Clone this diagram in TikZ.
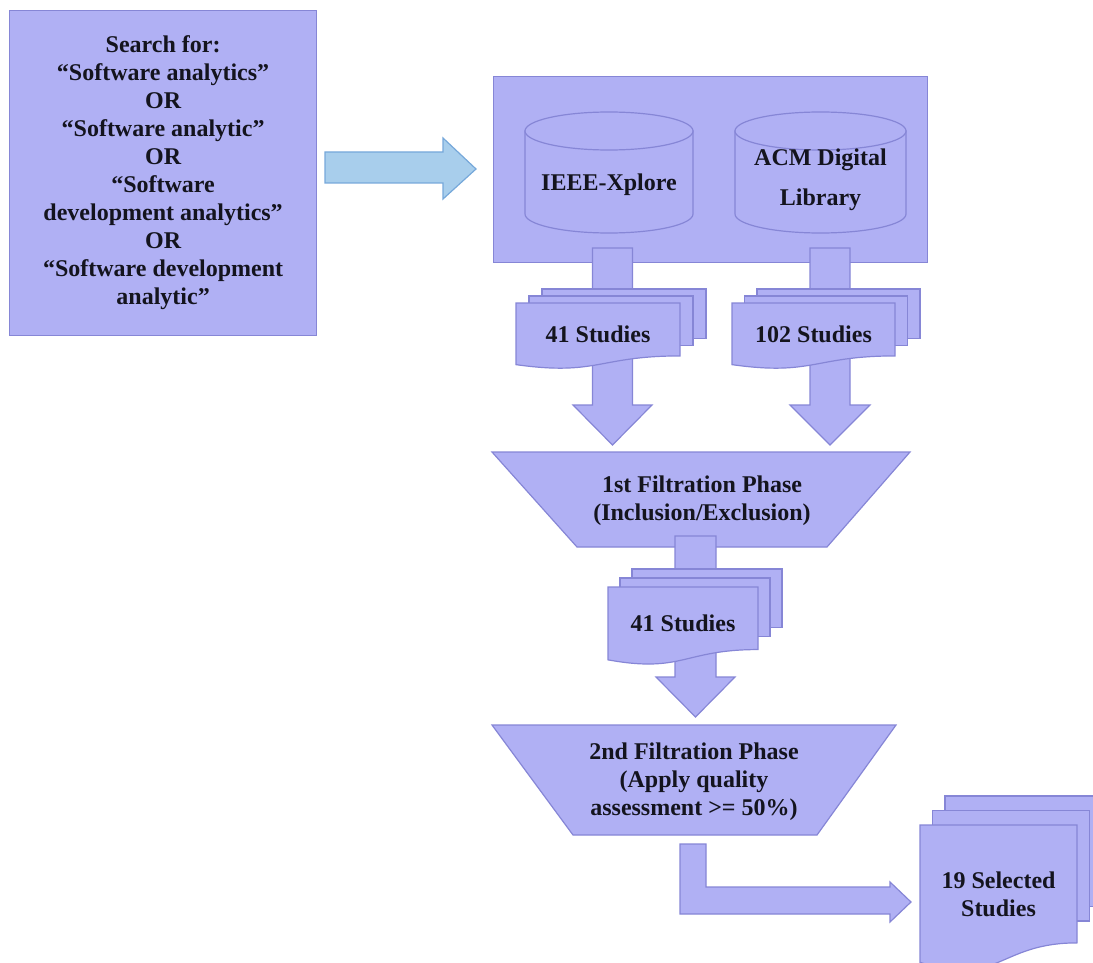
\documentclass[tikz,border=0pt]{standalone}
\usepackage{fontspec}
\setmainfont{Liberation Serif}
\definecolor{lav}{RGB}{176,176,244}
\definecolor{lavline}{RGB}{134,134,214}
\definecolor{skyfill}{RGB}{168,206,236}
\definecolor{skyline}{RGB}{118,168,218}
\definecolor{ink}{RGB}{20,20,30}

% stack of three pages with a wavy bottom on the front one
% #1 x, #2 y (front top-left), #3 width, #4 height, #5 dx, #6 dy, #7 name, #8 text
\newcommand{\docstack}[8]{%
  \foreach \k in {2,1}{%
    \pgfmathsetmacro\px{#1+\k*#5}%
    \pgfmathsetmacro\py{#2-\k*#6}%
    \pgfmathsetmacro\pb{#2+0.752*#4-\k*#6}%
    \draw[shapebox] (\px,\py) rectangle ({\px+#3},\pb);
  }%
  \draw[shapebox] (#1,#2) -- ({#1+#3},#2) -- ({#1+#3},{#2+0.802*#4})
    .. controls ({#1+0.5*#3},{#2+0.802*#4}) and ({#1+0.5*#3},{#2+1.108*#4}) .. (#1,{#2+0.934*#4}) -- cycle;
  \node[txt] (#7) at ({#1+0.5*#3},{#2+0.47*#4}) {#8};
}

\begin{document}
\begin{tikzpicture}[x=1pt,y=-1pt,
  shapebox/.style={fill=lav,draw=lavline,line width=1.2pt,line join=miter},
  skyarrow/.style={fill=skyfill,draw=skyline,line width=1.2pt,line join=miter},
  txt/.style={font=\fontsize{24}{28}\selectfont\bfseries,align=center,inner sep=0pt,text=ink},
]
\clip (0,0) rectangle (1093,963);

% query box
\node[shapebox,txt,anchor=north west,minimum width=307pt,minimum height=325pt] (search) at (9,10)
  {Search for:\\
   “Software analytics”\\
   OR\\
   “Software analytic”\\
   OR\\
   “Software\\
   development analytics”\\
   OR\\
   “Software development\\
   analytic”};

% arrow to the libraries
\draw[skyarrow] (325,152) -- (443,152) -- (443,138) -- (476,169) -- (443,199) -- (443,183) -- (325,183) -- cycle;

% digital libraries
\node[shapebox,anchor=north west,minimum width=434pt,minimum height=186pt,inner sep=0pt] (libs) at (493,76) {};

\draw[shapebox] (525,131) -- (525,214) arc[start angle=180,end angle=0,x radius=84,y radius=19] -- (693,131) -- cycle;
\draw[shapebox] (609,131) ellipse[x radius=84,y radius=19];
\node[txt] (ieee) at (609,185) {IEEE-Xplore};

\draw[shapebox] (735,131) -- (735,214) arc[start angle=180,end angle=0,x radius=85.5,y radius=19] -- (906,131) -- cycle;
\draw[shapebox] (820.5,131) ellipse[x radius=85.5,y radius=19];
\node[txt,font=\fontsize{24}{40}\selectfont\bfseries] (acm) at (820.5,180) {ACM Digital\\Library};

% search results flowing down
\draw[shapebox] (592.5,248) -- (632.5,248) -- (632.5,405) -- (652,405) -- (612.5,445) -- (573,405) -- (592.5,405) -- cycle;
\draw[shapebox] (810,248) -- (850,248) -- (850,405) -- (870,405) -- (830,445) -- (790,405) -- (810,405) -- cycle;

\docstack{516}{303}{164}{66}{13}{7}{ieeeres}{41 Studies}
\docstack{732}{303}{163}{66}{12.5}{7}{acmres}{102 Studies}

% first filtration
\draw[shapebox] (492,452) -- (910,452) -- (827,547) -- (577,547) -- cycle;
\node[txt] (filter1) at (702,501) {1st Filtration Phase\\(Inclusion/Exclusion)};

\draw[shapebox] (675,536) -- (716,536) -- (716,677) -- (735,677) -- (695.5,717) -- (656,677) -- (675,677) -- cycle;
\docstack{608}{587}{150}{78}{12}{9}{firstres}{41 Studies}

% second filtration
\draw[shapebox] (492,725) -- (896,725) -- (817,835) -- (573,835) -- cycle;
\node[txt] (filter2) at (694,782) {2nd Filtration Phase\\(Apply quality\\assessment >= 50\%)};

\draw[shapebox] (680,844) -- (706,844) -- (706,887) -- (890,887) -- (890,882) -- (911,902)
  -- (890,922) -- (890,914) -- (680,914) -- cycle;

\docstack{920}{825}{157}{147}{12.5}{14.5}{selected}{19 Selected\\Studies}
\end{tikzpicture}
\end{document}
